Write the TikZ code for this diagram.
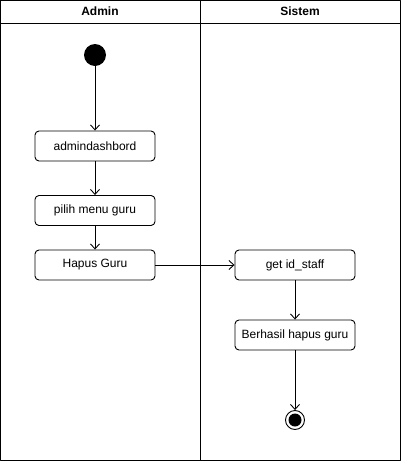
\documentclass[tikz,border=0pt]{standalone}
\usepackage{fontspec}
\setmainfont{Liberation Sans}
\usetikzlibrary{arrows.meta}
\tikzset{
  act/.style={draw,rounded corners=4pt,minimum width=120pt,minimum height=30pt,inner sep=0pt,font=\fontsize{12}{14}\selectfont},
  flow/.style={-{Straight Barb[length=5pt,width=9pt]}},
  lane/.style={font=\bfseries\fontsize{12}{14}\selectfont}
}
\begin{document}
\begin{tikzpicture}[x=1pt,y=-1pt,line width=0.9pt,line join=round]
\useasboundingbox (0,0) rectangle (401,461);
\draw (0.5,0.5) rectangle (400,460);
\draw (0.5,23) -- (400,23);
\draw (200,0.5) -- (200,460);
\node[lane] (admin) at (100,11.5) {Admin};
\node[lane] (sistem) at (300,11.5) {Sistem};
\node[circle,fill=black,minimum size=22pt,inner sep=0pt] (start) at (95,55) {};
\node[act] (dash) at (95,146) {admindashbord};
\node[act] (menu) at (95,210.5) {pilih menu guru};
\node[act] (hapus) at (95,265) {Hapus Guru};
\node[act] (getid) at (295,265) {get id\_staff};
\node[act] (berhasil) at (295,335) {Berhasil hapus guru};
\node[circle,draw,minimum size=19pt,inner sep=0pt] (end) at (295,420) {};
\fill (end) circle (6.5pt);
\draw[flow] (start) -- (dash);
\draw[flow] (dash) -- (menu);
\draw[flow] (menu) -- (hapus);
\draw[flow] (hapus) -- (getid);
\draw[flow] (getid) -- (berhasil);
\draw[flow] (berhasil) -- (end);
\end{tikzpicture}
\end{document}
